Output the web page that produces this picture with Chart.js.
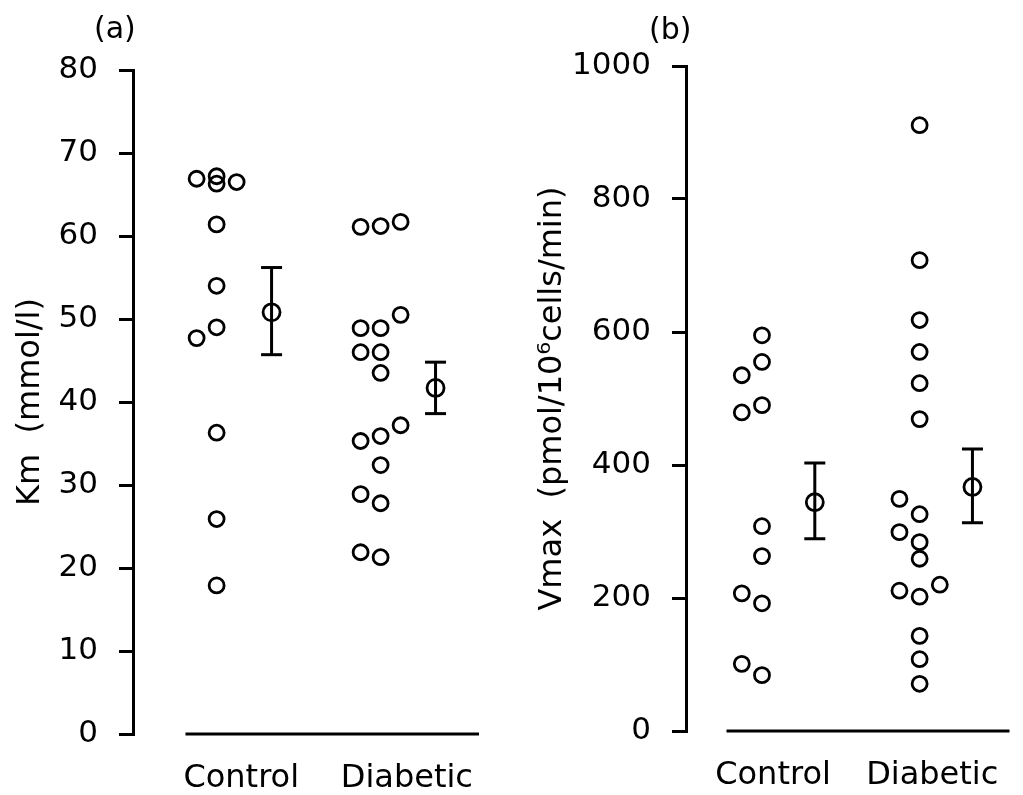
<!DOCTYPE html>
<html>
<head>
<meta charset="utf-8">
<script src="https://cdn.jsdelivr.net/npm/chart.js@4"></script>
<style>
  body { margin: 0; background: #fff; }
  #wrap { position: relative; width: 1023px; height: 795px; overflow: hidden; }
  .panel { position: absolute; top: 0; height: 795px; }
  .tag { position: absolute; font-family: 'DejaVu Sans'; font-size: 30px; line-height: 1; color: #000; }
</style>
</head>
<body>
<div id="wrap">
  <div class="panel" style="left:0;width:500px"><canvas id="chartA"></canvas></div>
  <div class="panel" style="left:500px;width:523px"><canvas id="chartB"></canvas></div>
  <div class="tag" style="left:94px;top:13px">(a)</div>
  <div class="tag" style="left:649px;top:14px">(b)</div>
</div>
<script>
var categories = ['Control', 'Diabetic'];

// (a) Km, mmol/l
var kmControl = [66.9, 67.2, 66.3, 66.5, 61.4, 54.0, 49.0, 47.7, 36.3, 25.9, 17.9];
var kmControlCol = [-1, 0, 0, 1, 0, 0, 0, -1, 0, 0, 0];
var kmDiabetic = [61.1, 61.2, 61.7, 50.5, 48.9, 48.9, 46.0, 46.0, 43.5, 37.2, 35.3, 35.9, 32.4, 28.9, 27.8, 21.9, 21.3];
var kmDiabeticCol = [-1, 0, 1, 1, -1, 0, -1, 0, 0, 1, -1, 0, 0, -1, 0, -1, 0];
var kmMean = [50.8, 41.7];
var kmUpper = [56.2, 44.8];
var kmLower = [45.7, 38.6];
var kmTicks = [0, 10, 20, 30, 40, 50, 60, 70, 80];

// (b) Vmax, pmol/10^6 cells/min
var vmaxControl = [595, 555, 535, 490, 479, 308, 263, 207, 192, 101, 84];
var vmaxControlCol = [0, 0, -1, 0, -1, 0, 0, -1, 0, -1, 0];
var vmaxDiabetic = [911, 708, 618, 570, 523, 469, 349, 326, 299, 284, 259, 220, 211, 202, 143, 108, 71];
var vmaxDiabeticCol = [0, 0, 0, 0, 0, 0, -1, 0, -1, 0, 0, 1, -1, 0, 0, 0, 0];
var vmaxMean = [344, 367];
var vmaxUpper = [403, 424];
var vmaxLower = [289, 313];
var vmaxTicks = [0, 200, 400, 600, 800, 1000];

Chart.defaults.font.family = 'DejaVu Sans';
Chart.defaults.color = '#000';

function makePanel(id, p) {
    var groups = [p.control, p.diabetic];
    var cols = [p.controlCol, p.diabeticCol];
    var datasets = [];

    // individual values
    groups.forEach(function (vals, g) {
        datasets.push({
            data: vals.map(function (v, i) {
                return { x: g + 1 + cols[g][i] * p.colStep, y: v };
            }),
            pointRadius: 7.5,
            pointBorderWidth: 2.8,
            pointBorderColor: '#000',
            pointBackgroundColor: 'rgba(0,0,0,0)'
        });
    });

    // mean +/- SEM
    p.mean.forEach(function (m, g) {
        var xm = g + 1 + p.meanOffset;
        datasets.push({
            type: 'line',
            data: [{ x: xm, y: p.lower[g] }, { x: xm, y: p.upper[g] }],
            borderColor: '#000',
            borderWidth: 3,
            pointRadius: 0
        });
        datasets.push({
            data: [{ x: xm, y: p.lower[g] }, { x: xm, y: p.upper[g] }],
            pointStyle: 'line',
            pointRadius: 10.5,
            pointBorderWidth: 3,
            pointBorderColor: '#000'
        });
        datasets.push({
            data: [{ x: xm, y: m }],
            pointRadius: 8.5,
            pointBorderWidth: 2.8,
            pointBorderColor: '#000',
            pointBackgroundColor: 'rgba(0,0,0,0)'
        });
    });

    // baseline under the groups
    datasets.push({
        type: 'line',
        data: [{ x: p.baseFrom, y: 0 }, { x: p.xMax, y: 0 }],
        borderColor: '#000',
        borderWidth: 3,
        pointRadius: 0,
        clip: false
    });

    return new Chart(document.getElementById(id), {
        type: 'scatter',
        data: { datasets: datasets },
        options: {
            responsive: true,
            maintainAspectRatio: false,
            animation: false,
            events: [],
            layout: { padding: { top: p.top, right: p.right, left: 0, bottom: 0 } },
            plugins: { legend: { display: false }, tooltip: { enabled: false } },
            scales: {
                x: {
                    type: 'linear',
                    min: p.xMin,
                    max: p.xMax,
                    border: { display: false },
                    grid: { display: false },
                    afterFit: function (s) { s.height = p.xAxisHeight; },
                    afterBuildTicks: function (s) {
                        s.ticks = p.labelPos.map(function (v) { return { value: v }; });
                    },
                    ticks: {
                        padding: 17,
                        font: { size: 32 },
                        callback: function (v, i) { return categories[i]; }
                    }
                },
                y: {
                    min: 0,
                    max: p.ticks[p.ticks.length - 1],
                    afterFit: function (s) { s.width = p.axisLeft; },
                    afterBuildTicks: function (s) {
                        s.ticks = p.ticks.map(function (v) { return { value: v }; });
                    },
                    border: { display: true, color: '#000', width: 3 },
                    grid: {
                        drawOnChartArea: false,
                        drawTicks: true,
                        tickLength: 14,
                        color: '#000',
                        lineWidth: 3
                    },
                    ticks: {
                        padding: 21,
                        font: { size: 31 },
                        callback: function (v) { return String(v); }
                    },
                    title: {
                        display: true,
                        text: p.title,
                        font: { size: 32 },
                        padding: { top: p.titlePad, bottom: 0 }
                    }
                }
            }
        }
    });
}

makePanel('chartA', {
    control: kmControl, controlCol: kmControlCol,
    diabetic: kmDiabetic, diabeticCol: kmDiabeticCol,
    mean: kmMean, upper: kmUpper, lower: kmLower, ticks: kmTicks,
    title: 'Km  (mmol/l)',
    colStep: 0.122, meanOffset: 0.335,
    xMin: 0.49, xMax: 2.6, baseFrom: 0.81, labelPos: [1.15, 2.16],
    top: 70, right: 21, axisLeft: 133, xAxisHeight: 61, titlePad: 11
});

makePanel('chartB', {
    control: vmaxControl, controlCol: vmaxControlCol,
    diabetic: vmaxDiabetic, diabeticCol: vmaxDiabeticCol,
    mean: vmaxMean, upper: vmaxUpper, lower: vmaxLower, ticks: vmaxTicks,
    title: 'Vmax  (pmol/10\u2076cells/min)',
    colStep: 0.128, meanOffset: 0.335,
    xMin: 0.518, xMax: 2.57, baseFrom: 0.775, labelPos: [1.07, 2.08],
    top: 66, right: 0, axisLeft: 186, xAxisHeight: 64, titlePad: 33
});
</script>
</body>
</html>
